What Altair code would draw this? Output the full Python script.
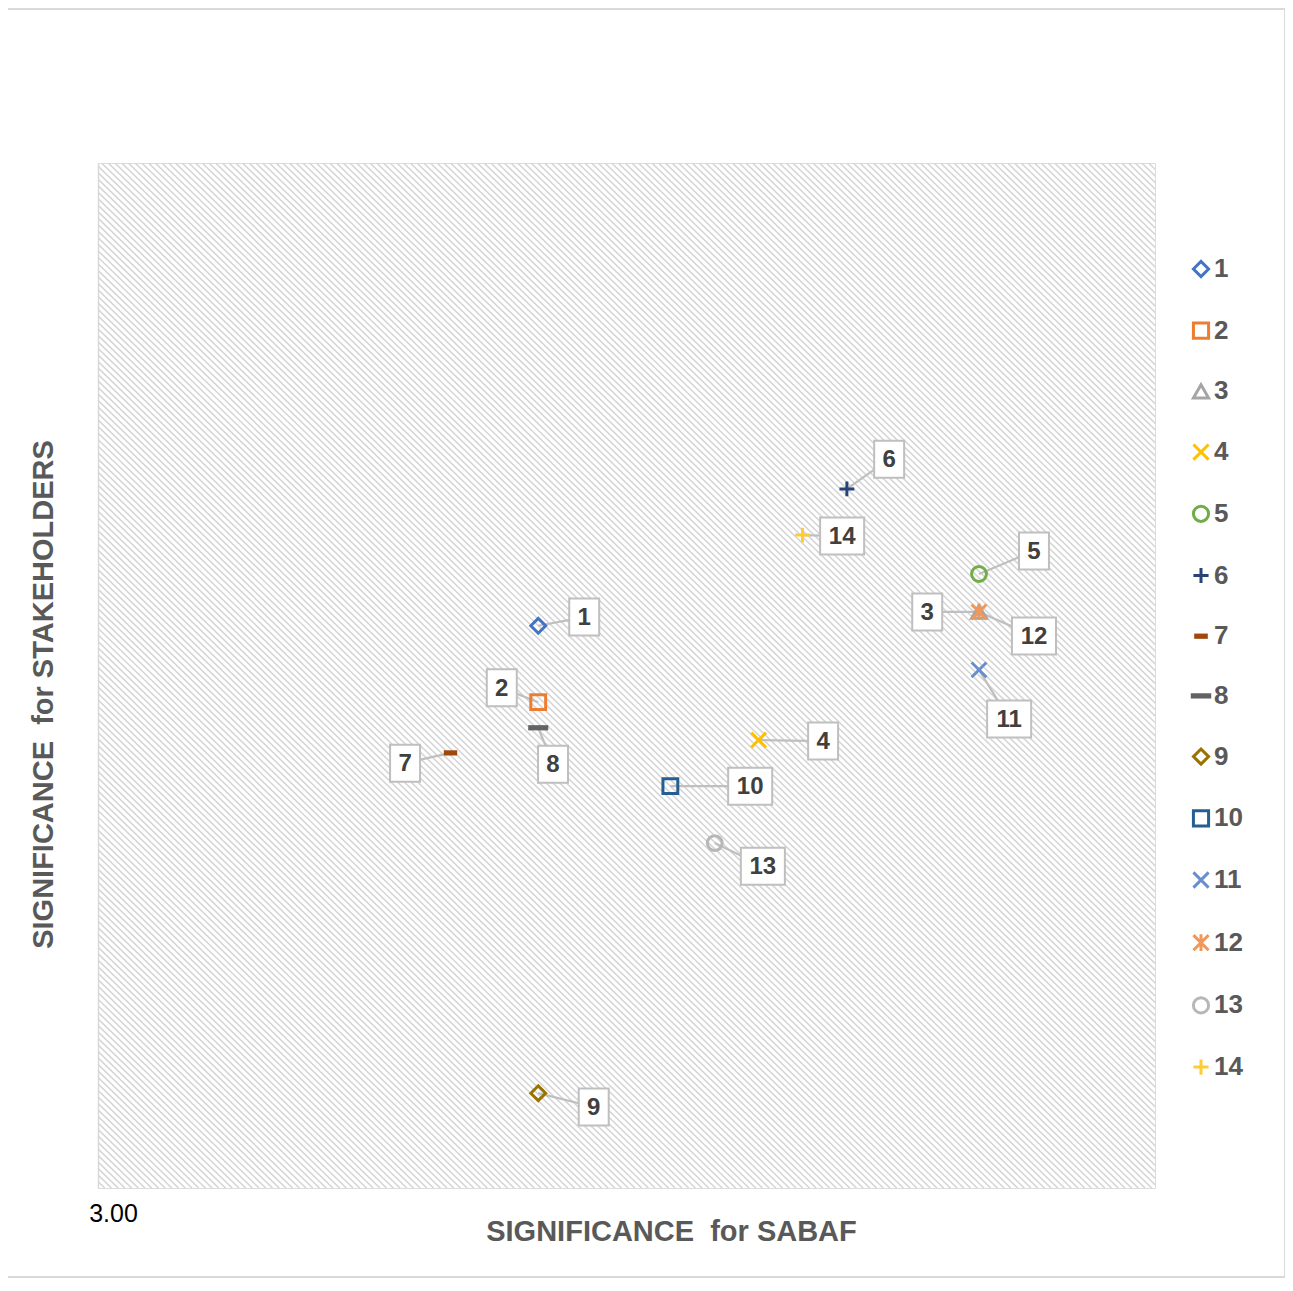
import altair as alt
import pandas as pd
import numpy as np

# ---- data ----
ids = [str(i) for i in range(1, 15)]
sabaf = [3.833, 3.833, 4.667, 4.250, 4.667, 4.417, 3.667, 3.833, 3.833, 4.083, 4.667, 4.667, 4.167, 4.333]
stake = [4.097, 3.948, 4.124, 3.874, 4.198, 4.364, 3.849, 3.898, 3.185, 3.784, 4.011, 4.124, 3.673, 4.274]

# data-label callout offsets (data units)
label_dx = [0.087, -0.069, -0.098, 0.122, 0.104, 0.080, -0.086, 0.028, 0.105, 0.151, 0.057, 0.104, 0.091, 0.075]
label_dy = [0.017, 0.028, 0.000, -0.002, 0.045, 0.058, -0.020, -0.071, -0.027, 0.000, -0.096, -0.047, -0.045, -0.002]

colors = ["#4472C4", "#ED7D31", "#A5A5A5", "#FFC000", "#70AD47", "#264478", "#9E480E",
          "#636363", "#997300", "#255E91", "#698ED0", "#F1975A", "#B7B7B7", "#FFCD33"]
X_PATH = "M-1,-1L1,1M-1,1L1,-1"
PLUS_PATH = "M-1,0L1,0M0,-1L0,1"
STAR_PATH = "M-1,-1L1,1M-1,1L1,-1M0,-1.1L0,1.1"
DASH_S = "M-0.7,-0.15L0.7,-0.15L0.7,0.15L-0.7,0.15Z"
DASH_L = "M-1.15,-0.15L1.15,-0.15L1.15,0.15L-1.15,0.15Z"
shapes = ["diamond", "square", "triangle-up", X_PATH, "circle", PLUS_PATH, DASH_S,
          DASH_L, "diamond", "square", X_PATH, STAR_PATH, "circle", PLUS_PATH]

df = pd.DataFrame({"id": ids, "x": sabaf, "y": stake})
df["lx"] = df["x"] + np.array(label_dx)
df["ly"] = df["y"] + np.array(label_dy)

# background hatch (decoration)
offs = np.arange(-2.0, 2.0, 0.0127)
hatch = pd.DataFrame({"hx": 3 + offs, "hx2": 5 + offs, "hy": 5.0, "hy2": 3.0})

W, H = 1057, 1025
GRAY = "#595959"
FONT = "Liberation Sans"

xs = alt.Scale(domain=[3, 5], nice=False, zero=False)
ys = alt.Scale(domain=[3, 5], nice=False, zero=False)
xaxis = alt.Axis(values=[3], format=".2f", ticks=False, grid=False, domain=False,
                 labelFontSize=25, labelColor="#000000", labelFont=FONT, labelFlush=False,
                 labelAlign="center", labelOffset=15, labelBaseline="middle", labelPadding=25,
                 title="SIGNIFICANCE\u00a0 for SABAF", titleFontSize=29, titleFont=FONT,
                 titleFontWeight="bold", titleColor=GRAY, titleX=573, titleY=43,
                 titleBaseline="middle", titleAlign="center")
yaxis = alt.Axis(values=[], ticks=False, grid=False, labels=False, domain=True,
                 domainColor="#d9d9d9", domainWidth=1.5,
                 title="SIGNIFICANCE\u00a0 for STAKEHOLDERS", titleFontSize=29, titleFont=FONT,
                 titleFontWeight="bold", titleColor=GRAY, titleX=-55, titleY=531,
                 titleAngle=270, titleBaseline="middle", titleAlign="center")


def X(f):
    return alt.X(f, type="quantitative", scale=xs, axis=xaxis)


def Y(f):
    return alt.Y(f, type="quantitative", scale=ys, axis=yaxis)


base = alt.Chart(df)

frame = alt.Chart(df.head(1)).mark_rect(fill="transparent", stroke="#d9d9d9", strokeWidth=2).encode(
    x=alt.value(-91), x2=alt.value(1187), y=alt.value(-154), y2=alt.value(1114))

hatch_layer = alt.Chart(hatch).mark_rule(clip=True, stroke="#d6d6d6", strokeWidth=1.6).encode(
    x=X("hx"), x2="hx2", y=Y("hy"), y2="hy2")

leaders = base.mark_rule(color="#bfbfbf", strokeWidth=2.2).encode(
    x=X("x"), y=Y("y"), x2="lx", y2="ly")

box1 = base.transform_filter("length(datum.id) == 1").mark_point(
    shape="M-0.81,-1L0.81,-1L0.81,1L-0.81,1Z", size=1369, filled=True,
    fill="white", stroke="#bfbfbf", strokeWidth=2, opacity=1).encode(x=X("lx"), y=Y("ly"))
box2 = base.transform_filter("length(datum.id) == 2").mark_point(
    shape="M-1.19,-1L1.19,-1L1.19,1L-1.19,1Z", size=1369, filled=True,
    fill="white", stroke="#bfbfbf", strokeWidth=2, opacity=1).encode(x=X("lx"), y=Y("ly"))

texts = base.mark_text(font=FONT, fontSize=24, fontWeight="bold", color="#404040",
                       align="center", baseline="middle", dy=1).encode(
    x=X("lx"), y=Y("ly"), text="id:N")

legend = alt.Legend(title=None, orient="none", legendX=1090, legendY=93,
                    labelFont=FONT, labelFontSize=26, labelFontWeight="bold", labelColor=GRAY,
                    symbolSize=230, symbolStrokeWidth=3, rowPadding=33.7, labelOffset=0,
                    padding=0)

points = base.mark_point(filled=False, size=220, strokeWidth=3, opacity=1).encode(
    x=X("x"), y=Y("y"),
    color=alt.Color("id:N", scale=alt.Scale(domain=ids, range=colors), legend=legend),
    shape=alt.Shape("id:N", scale=alt.Scale(domain=ids, range=shapes), legend=legend))

chart = alt.layer(frame, hatch_layer, leaders, box1, box2, texts, points).properties(
    width=W, height=H,
    padding={"left": 90, "top": 155, "right": 130, "bottom": 90},
    autosize=alt.AutoSizeParams(type="none"),
).configure_view(stroke=None).configure(font=FONT)

chart.save("out.html", embed_options={"renderer": "svg", "actions": False})
